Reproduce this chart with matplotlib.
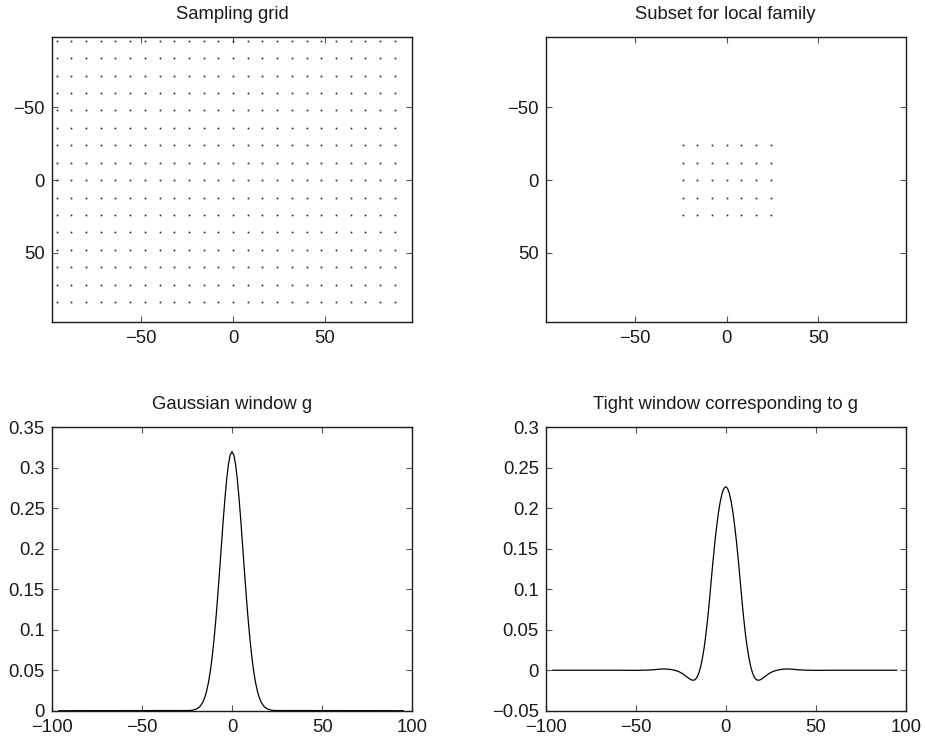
import numpy as np
import matplotlib
matplotlib.use("Agg")
import matplotlib.pyplot as plt
from matplotlib.ticker import FuncFormatter

plt.rcParams['font.family'] = ['Liberation Sans', 'DejaVu Sans']
plt.rcParams['font.size'] = 13.3

# ---- data ----
grid_x = [-96, -88, -80, -72, -64, -56, -48, -40, -32, -24, -16, -8,
          0, 8, 16, 24, 32, 40, 48, 56, 64, 72, 80, 88]
grid_y = [-96, -84, -72, -60, -48, -36, -24, -12, 0, 12, 24, 36, 48, 60, 72, 84]

subset_x = [-24, -16, -8, 0, 8, 16, 24]
subset_y = [-24, -12, 0, 12, 24]

# positive half of the Gaussian window (mirrored for negative side)
gauss_half_x = [0, 1, 2, 3, 4, 5, 6, 7, 8, 9, 10, 11, 12, 13, 14, 15, 16, 17, 18, 20, 22, 24, 96]
gauss_half_y = [0.3200, 0.3159, 0.3038, 0.2847, 0.2600, 0.2312, 0.2004, 0.1692, 0.1392,
                0.1116, 0.0872, 0.0663, 0.0492, 0.0355, 0.0250, 0.0172, 0.0115, 0.0075,
                0.0047, 0.0018, 0.0006, 0.0002, 0.0]

# positive half of the tight window
tight_half_x = [0, 1, 2, 3, 4, 5, 6, 7, 8, 9, 10, 11, 12, 13, 14, 15, 16, 17, 18, 19, 20,
                22, 24, 26, 28, 30, 32, 34, 36, 38, 40, 44, 50, 60, 96]
tight_half_y = [0.2266, 0.2245, 0.2185, 0.2085, 0.1950, 0.1780, 0.1585, 0.1360, 0.1120,
                0.0870, 0.0640, 0.0440, 0.0275, 0.0140, 0.0035, -0.0040, -0.0090, -0.0117,
                -0.0124, -0.0120, -0.0108, -0.0075, -0.0042, -0.0018, -0.0003, 0.0007,
                0.0013, 0.0016, 0.0014, 0.0010, 0.0006, 0.0001, -0.0002, 0.0, 0.0]

titles = ["Sampling grid", "Subset for local family",
          "Gaussian window g", "Tight window corresponding to g"]


def mirror(hx, hy):
    hx = np.asarray(hx, float)
    hy = np.asarray(hy, float)
    x = np.concatenate([-hx[:0:-1], hx])
    y = np.concatenate([hy[:0:-1], hy])
    x[0] = -96
    x[-1] = 95
    return x, y


fmt = FuncFormatter(lambda v, p: ("%g" % round(v, 4)).replace("-", "\u2212"))

W, H = 925, 744
fig = plt.figure(figsize=(W / 100, H / 100), dpi=100)


def make_ax(x0, y0, x1, y1):
    return fig.add_axes([x0 / W, 1 - y1 / H, (x1 - x0) / W, (y1 - y0) / H])


ax1 = make_ax(52, 37.3, 412.3, 321.7)
ax2 = make_ax(545.7, 37.3, 905.7, 321.7)
ax3 = make_ax(51.7, 427.3, 412.3, 710.7)
ax4 = make_ax(545.7, 427.3, 905.7, 710.7)

dot_kw = dict(linestyle="none", marker="s", markersize=1.2, markeredgewidth=0,
              color="#222222")

gx, gy = np.meshgrid(grid_x, grid_y)
ax1.plot(gx.ravel(), gy.ravel(), **dot_kw)
sx, sy = np.meshgrid(subset_x, subset_y)
ax2.plot(sx.ravel(), sy.ravel(), **dot_kw)

for ax in (ax1, ax2):
    ax.set_xlim(-98.5, 97.5)
    ax.set_ylim(97.5, -98.3)
    ax.set_xticks([-50, 0, 50])
    ax.set_yticks([-50, 0, 50])

x, y = mirror(gauss_half_x, gauss_half_y)
ax3.plot(x, y, color="black", linewidth=0.9)
ax3.set_xlim(-100, 100)
ax3.set_ylim(0, 0.35)
ax3.set_xticks([-100, -50, 0, 50, 100])
ax3.set_yticks([0, 0.05, 0.1, 0.15, 0.2, 0.25, 0.3, 0.35])

x, y = mirror(tight_half_x, tight_half_y)
ax4.plot(x, y, color="black", linewidth=0.9)
ax4.set_xlim(-100, 100)
ax4.set_ylim(-0.05, 0.3)
ax4.set_xticks([-100, -50, 0, 50, 100])
ax4.set_yticks([-0.05, 0, 0.05, 0.1, 0.15, 0.2, 0.25, 0.3])

for ax, t in zip((ax1, ax2, ax3, ax4), titles):
    ax.set_title(t, fontsize=13.3, pad=13.5, color="#1a1a1a")
    ax.xaxis.set_major_formatter(fmt)
    ax.yaxis.set_major_formatter(fmt)
    ax.tick_params(direction="in", length=4, width=0.8, top=True, right=True,
                   color="#555555", labelcolor="#1a1a1a", labelsize=13.3)
    ax.tick_params(axis="x", pad=6)
    ax.tick_params(axis="y", pad=5)
    for s in ax.spines.values():
        s.set_linewidth(1.0)
        s.set_color("#1a1a1a")

fig.savefig("out.png", dpi=100)
